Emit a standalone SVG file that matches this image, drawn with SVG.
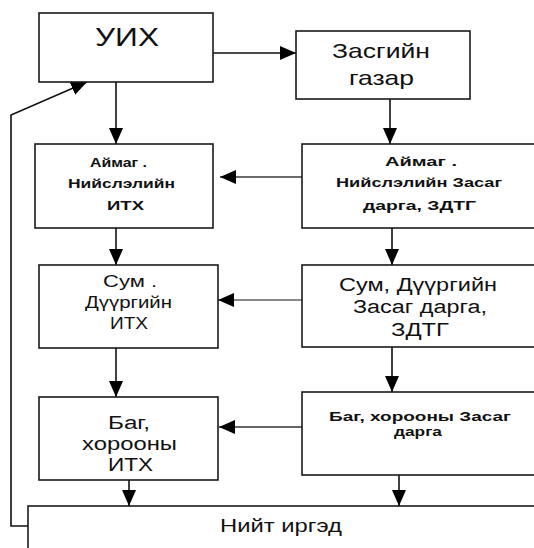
<svg xmlns="http://www.w3.org/2000/svg" width="534" height="548" viewBox="0 0 534 548">
<style>
.box{fill:#fff;stroke:#1a1a1a;stroke-width:1.6}
.t{font-family:"Liberation Sans",Arial,sans-serif;fill:#111;text-anchor:middle}
.b{font-weight:bold;font-size:13px}
.c{fill:none;stroke:#111;stroke-width:1.6}
</style>
<defs>
<marker id="ah" markerUnits="userSpaceOnUse" markerWidth="17" markerHeight="15" refX="16" refY="7" orient="auto">
<path d="M0,0 L16,7 L0,14 z" fill="#000"/>
</marker>
</defs>
<rect width="534" height="548" fill="#fff"/>
<g id="connectors">
<line class="c" x1="213" y1="53" x2="296" y2="53" marker-end="url(#ah)"/>
<line class="c" x1="116" y1="82" x2="116" y2="144" marker-end="url(#ah)"/>
<line class="c" x1="390" y1="99" x2="390" y2="144" marker-end="url(#ah)"/>
<line class="c" x1="302" y1="177" x2="220" y2="177" style="stroke:#3a3a3a" marker-end="url(#ah)"/>
<line class="c" x1="116" y1="228" x2="116" y2="265" marker-end="url(#ah)"/>
<line class="c" x1="392" y1="228" x2="392" y2="265" marker-end="url(#ah)"/>
<line class="c" x1="302" y1="300" x2="218" y2="300" style="stroke:#888;stroke-width:2" marker-end="url(#ah)"/>
<line class="c" x1="116" y1="348" x2="116" y2="397" marker-end="url(#ah)"/>
<line class="c" x1="392" y1="347" x2="392" y2="392" marker-end="url(#ah)"/>
<line class="c" x1="302" y1="427" x2="219" y2="427" style="stroke:#666;stroke-width:1.8" marker-end="url(#ah)"/>
<line class="c" x1="129" y1="480" x2="129" y2="506" marker-end="url(#ah)"/>
<line class="c" x1="399" y1="475" x2="399" y2="506" marker-end="url(#ah)"/>
<polyline class="c" points="28,526 11,526 11,115 87,82" marker-end="url(#ah)"/>
</g>
<g id="uih">
<rect class="box" x="39" y="13" width="174" height="69"/>
<text class="t" x="127" y="46" font-size="26" textLength="64" lengthAdjust="spacingAndGlyphs">УИХ</text>
</g>
<g id="zasgiin-gazar">
<rect class="box" x="296" y="31" width="174" height="68"/>
<text class="t" x="381" y="58" font-size="21" textLength="98" lengthAdjust="spacingAndGlyphs">Засгийн</text>
<text class="t" x="381.5" y="85" font-size="21" textLength="65" lengthAdjust="spacingAndGlyphs">газар</text>
</g>
<g id="aimag-ith">
<rect class="box" x="35" y="144" width="178" height="84"/>
<text class="t b" x="118.5" y="167" textLength="57" lengthAdjust="spacingAndGlyphs">Аймаг .</text>
<text class="t b" x="121.5" y="188" textLength="107" lengthAdjust="spacingAndGlyphs">Нийслэлийн</text>
<text class="t b" x="125.5" y="210" textLength="37" lengthAdjust="spacingAndGlyphs">ИТХ</text>
</g>
<g id="aimag-zasag">
<rect class="box" x="302" y="144" width="240" height="84"/>
<text class="t b" x="421" y="166" textLength="72" lengthAdjust="spacingAndGlyphs">Аймаг .</text>
<text class="t b" x="419" y="187" textLength="166" lengthAdjust="spacingAndGlyphs">Нийслэлийн Засаг</text>
<text class="t b" x="419.5" y="210" textLength="113" lengthAdjust="spacingAndGlyphs">дарга, ЗДТГ</text>
</g>
<g id="sum-ith">
<rect class="box" x="39" y="265" width="179" height="83"/>
<text class="t" x="130" y="287" font-size="16" textLength="54" lengthAdjust="spacingAndGlyphs">Сум .</text>
<text class="t" x="128.5" y="308" font-size="16" textLength="87" lengthAdjust="spacingAndGlyphs">Дүүргийн</text>
<text class="t" x="129" y="329" font-size="16" textLength="38" lengthAdjust="spacingAndGlyphs">ИТХ</text>
</g>
<g id="sum-zasag">
<rect class="box" x="302" y="265" width="240" height="82"/>
<text class="t" x="418" y="291" font-size="18" textLength="158" lengthAdjust="spacingAndGlyphs">Сум, Дүүргийн</text>
<text class="t" x="420" y="313" font-size="18" textLength="134" lengthAdjust="spacingAndGlyphs">Засаг дарга,</text>
<text class="t" x="420" y="336" font-size="18" textLength="58" lengthAdjust="spacingAndGlyphs">ЗДТГ</text>
</g>
<g id="bag-ith">
<rect class="box" x="39" y="397" width="179" height="83"/>
<text class="t" x="129" y="429" font-size="18" textLength="42" lengthAdjust="spacingAndGlyphs">Баг,</text>
<text class="t" x="129.5" y="450" font-size="18" textLength="95" lengthAdjust="spacingAndGlyphs">хорооны</text>
<text class="t" x="130.5" y="471" font-size="18" textLength="45" lengthAdjust="spacingAndGlyphs">ИТХ</text>
</g>
<g id="bag-zasag">
<rect class="box" x="302" y="392" width="240" height="83"/>
<text class="t b" x="420" y="421" textLength="182" lengthAdjust="spacingAndGlyphs">Баг, хорооны Засаг</text>
<text class="t b" x="418" y="436" textLength="48" lengthAdjust="spacingAndGlyphs">дарга</text>
</g>
<g id="niit-irged">
<rect class="box" x="28" y="506" width="514" height="60"/>
<text class="t" x="281" y="532" font-size="19" textLength="122" lengthAdjust="spacingAndGlyphs">Нийт иргэд</text>
</g>
</svg>
